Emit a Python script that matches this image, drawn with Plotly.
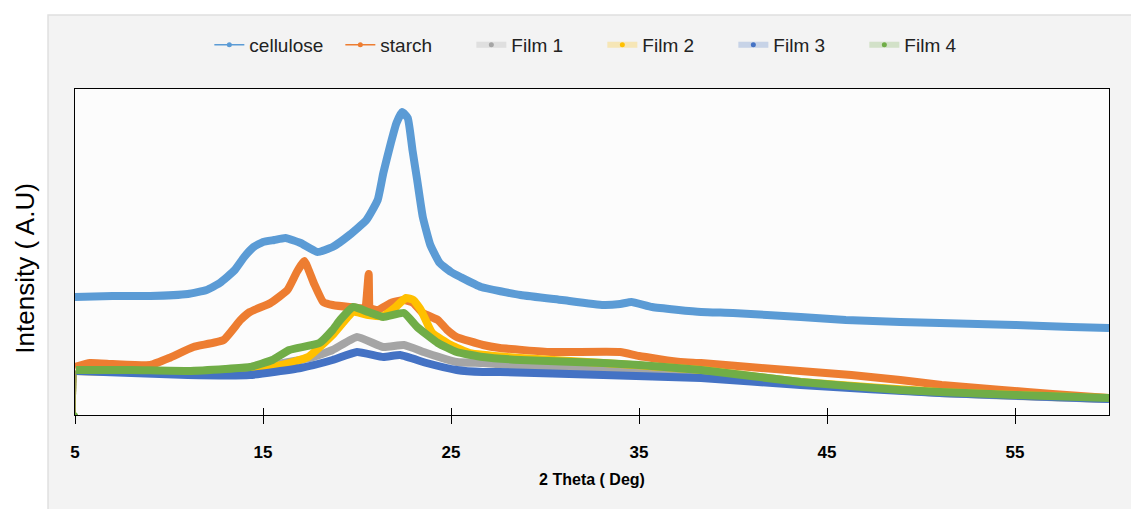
import plotly.graph_objects as go

# ---- data (2θ in degrees, intensity in arbitrary units) ----
cellulose_x = [5, 7, 9, 11, 12, 12.7, 13.5, 14, 14.5, 15, 15.6, 16.2, 17, 17.9, 18.7, 19.6, 20.5, 21.1, 21.4, 21.8,
               22.1, 22.4, 22.7, 22.95, 23.2, 23.5, 23.9, 24.4, 25, 25.5, 26.6, 28.7, 30.9, 33.1, 34, 34.6, 35.7,
               38.3, 40, 43.6, 46, 48.9, 51, 55, 58, 60]
cellulose_y = [118, 119, 119, 121, 125, 132, 145, 158, 168, 173, 175, 177, 172, 163, 168, 180, 195, 215, 242, 272,
               292, 303, 297, 265, 235, 198, 170, 152, 143, 138, 128, 120, 115, 110, 111, 113, 108,
               103, 102, 98, 95, 93, 92, 90, 88, 87]

starch_x = [5, 5.8, 7, 9, 10, 11.3, 12.9, 13.8, 14.3, 15.4, 16.3, 16.8, 17.2, 17.7, 18.2, 18.7, 19.6, 20.4, 20.62,
            20.7, 21.1, 21.8, 22.5, 23.0, 23.5, 24.3, 24.8, 25.3, 26.7, 27.6, 30.3, 34, 35, 37.2, 38.3, 41.5, 46.3,
            48.9, 51.1, 54.3, 57, 60]
starch_y = [48, 52, 51, 50, 57, 68, 75, 95, 103, 112, 125, 143, 154, 132, 113, 110, 108, 107, 141,
            107, 105, 112, 115, 112, 102, 95, 85, 78, 70, 67, 63, 63, 59, 53, 52, 47, 40,
            35, 30, 25, 21, 17]

film1_x = [5, 5.05, 8, 11, 14, 16.1, 17.5, 18.7, 20, 21.4, 22.5, 23.7, 25.3, 26.7, 28, 33.1, 38.3, 43.6, 51, 60]
film1_y = [0, 44, 43, 41, 42, 52, 57, 65, 78, 68, 70, 62, 53, 52, 50, 47, 43, 32, 22, 16]

film2_x = [5, 5.05, 8, 11, 14, 16, 17.4, 18.7, 19.8, 20.6, 21.4, 22.0, 22.6, 23.0, 23.4, 24, 25, 26, 28.7, 33.1,
           38.3, 43.6, 51, 60]
film2_y = [0, 44, 43, 42, 44, 50, 58, 80, 103, 100, 99, 107, 117, 115, 105, 82, 70, 62, 57, 52,
           45, 33, 23, 17]

film3_x = [5, 5.05, 8, 11, 14.3, 17, 18.7, 20, 21.4, 22.3, 23.7, 25.3, 26.7, 27.6, 33.1, 38.3, 43.6, 51, 60]
film3_y = [0, 44, 42, 40, 40, 47, 55, 63, 58, 60, 52, 45, 43, 43, 40, 37, 30, 22, 16]

film4_x = [5, 5.05, 8, 11, 13, 14.3, 15.5, 16.4, 18, 18.7, 19.1, 19.8, 20.6, 21.4, 22.5, 23.2, 24.3, 25.3, 26.7,
           28.7, 33.1, 35, 38.3, 43.6, 48.9, 51, 55, 60]
film4_y = [0, 45, 45, 44, 46, 48, 55, 65, 72, 85, 95, 108, 103, 98, 102, 88, 72, 63, 58,
           55, 52, 50, 45, 33, 25, 23, 20, 17]

tick_vals = [5, 15, 25, 35, 45, 55]
x_range = [5, 60]

names = ["cellulose", "starch", "Film 1", "Film 2", "Film 3", "Film 4"]
colors = ["#5B9BD5", "#ED7D31", "#A5A5A5", "#FFC000", "#4472C4", "#70AD47"]
legend_line = ["#5B9BD5", "#ED7D31", "rgba(165,165,165,0.25)", "rgba(255,192,0,0.25)",
               "rgba(68,114,196,0.25)", "rgba(112,173,71,0.25)"]
legend_lw = [1.5, 1.5, 6, 6, 6, 6]

series = [(cellulose_x, cellulose_y), (starch_x, starch_y), (film1_x, film1_y),
          (film2_x, film2_y), (film3_x, film3_y), (film4_x, film4_y)]

fig = go.Figure()

for i, (xs, ys) in enumerate(series):
    if ys[0] == 0:
        # thin drop from the first (zero) point
        fig.add_trace(go.Scatter(x=xs[:2], y=ys[:2], mode="lines",
                                 line=dict(color="#9a9a50", width=1.2),
                                 showlegend=False, hoverinfo="skip"))
        fig.add_trace(go.Scatter(x=xs[:1], y=ys[:1], mode="markers",
                                 marker=dict(color="#70AD47", size=5),
                                 showlegend=False, hoverinfo="skip"))
        xs, ys = xs[1:], ys[1:]
    fig.add_trace(go.Scatter(x=xs, y=ys, mode="lines", name=names[i],
                             line=dict(color=colors[i], width=8, shape="spline", smoothing=0.4),
                             showlegend=False))

# legend-only entries
for i in range(len(names)):
    fig.add_trace(go.Scatter(x=[None], y=[None], mode="lines+markers", name=names[i],
                             line=dict(color=legend_line[i], width=legend_lw[i]),
                             marker=dict(color=colors[i], size=5)))

# invisible trace to carry the second (outer-tick) axis
fig.add_trace(go.Scatter(x=x_range, y=[None, None], xaxis="x2", mode="markers",
                         showlegend=False, hoverinfo="skip"))

FONT = "Liberation Sans"

fig.update_layout(
    width=1131, height=509,
    margin=dict(l=75, r=22, t=89, b=94),
    paper_bgcolor="white",
    plot_bgcolor="#fcfcfc",
    font=dict(family=FONT, color="#222"),
    legend=dict(orientation="h", x=0.51, xanchor="center", y=1.135, yanchor="middle",
                font=dict(size=19, family=FONT, color="#222"),
                bgcolor="rgba(0,0,0,0)", entrywidth=86, entrywidthmode="pixels"),
    xaxis=dict(range=x_range, tickvals=tick_vals, ticks="inside", ticklen=7, tickcolor="black",
               tickwidth=1.2,
               showline=True, linecolor="black", linewidth=1.2, mirror=True, showgrid=False,
               zeroline=False, ticklabelstandoff=21,
               tickfont=dict(size=17, family=FONT, color="black", weight="bold"),
               title=dict(text="2 Theta ( Deg)", standoff=13,
                          font=dict(size=16, family=FONT, color="black", weight="bold"))),
    xaxis2=dict(range=x_range, tickvals=tick_vals, ticks="outside", ticklen=8, tickcolor="black",
                tickwidth=1.2, overlaying="x", anchor="y", side="bottom", showticklabels=False,
                showgrid=False, zeroline=False, showline=False),
    yaxis=dict(range=[0, 326], showticklabels=False, ticks="", showgrid=False, zeroline=False,
               showline=True, linecolor="black", linewidth=1.2, mirror=True),
    annotations=[dict(text="Intensity ( A.U)", textangle=-90, xref="paper", yref="paper",
                      x=-0.048, y=0.45, xanchor="center", yanchor="middle", showarrow=False,
                      font=dict(size=26, family=FONT, color="black"))],
    shapes=[dict(type="rect", xref="paper", yref="paper", x0=-0.0261, x1=1.03, y0=-0.30, y1=1.227,
                 fillcolor="#f3f3f3", line=dict(color="#e0e0e0", width=1.5), layer="below"),
            dict(type="rect", xref="paper", yref="paper", x0=0, x1=1, y0=0, y1=1,
                 fillcolor="#fcfcfc", line=dict(width=0), layer="below")],
)

fig.write_html("out.html", post_script="document.body.style.margin='0';",
               config={"displayModeBar": False})
